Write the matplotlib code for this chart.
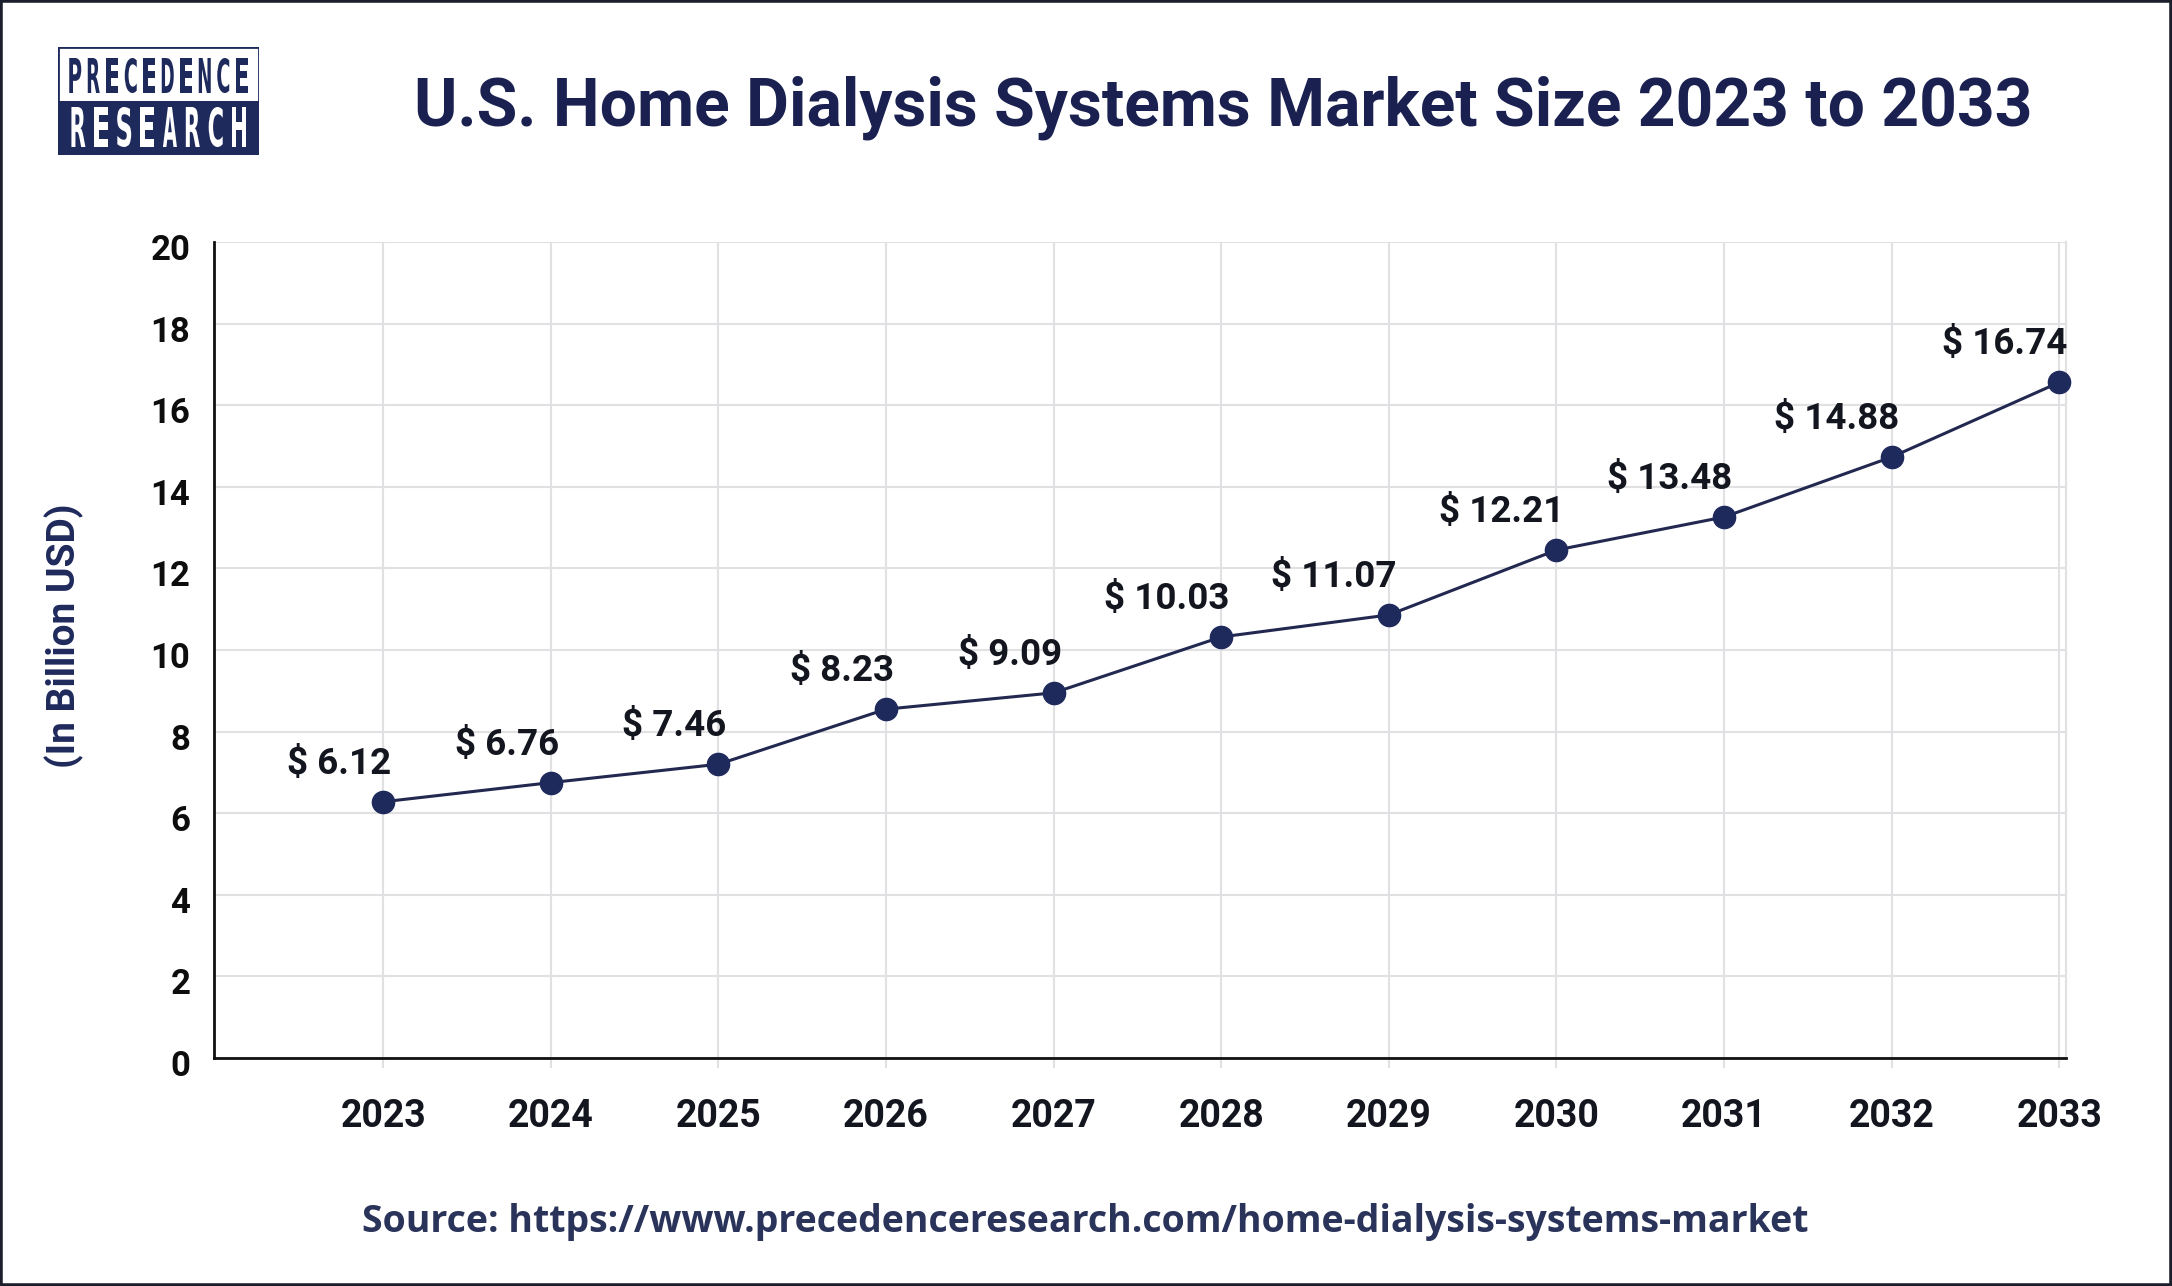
import matplotlib
matplotlib.use('Agg')
import matplotlib.pyplot as plt
import matplotlib.transforms as mtransforms
from matplotlib.patches import Rectangle, PathPatch
from matplotlib.textpath import TextPath
from matplotlib.font_manager import FontProperties
from matplotlib.transforms import Affine2D

years = [2023, 2024, 2025, 2026, 2027, 2028, 2029, 2030, 2031, 2032, 2033]
# values printed on the chart (USD billion)
market_size = [6.12, 6.76, 7.46, 8.23, 9.09, 10.03, 11.07, 12.21, 13.48, 14.88, 16.74]
# heights where the dots are actually drawn in the picture
drawn_size = [6.28, 6.75, 7.20, 8.55, 8.95, 10.32, 10.86, 12.45, 13.26, 14.73, 16.56]
y_ticks = [0, 2, 4, 6, 8, 10, 12, 14, 16, 18, 20]

title = 'U.S. Home Dialysis Systems Market Size 2023 to 2033'
y_label = '(In Billion USD)'
source = 'Source: https://www.precedenceresearch.com/home-dialysis-systems-market'

navy = '#1f2a5c'
text_dark = '#14161f'
grid_c = '#e1e1e4'

W, H = 2172, 1286
fig = plt.figure(figsize=(W / 100, H / 100), dpi=100, facecolor='white')

ax = fig.add_axes([214 / W, 1 - 1058 / H, (2066 - 214) / W, (1058 - 242) / H])
ax.plot(years, drawn_size, color='#22284f', lw=2.2, marker='o', markersize=16,
        markerfacecolor=navy, markeredgecolor=navy, zorder=3, clip_on=False)

for x, yv, lab in zip(years, drawn_size, market_size):
    ax.annotate(f'$ {lab:.2f}', (x, yv), xytext=(8, 28), textcoords='offset pixels',
                ha='right', va='baseline', fontsize=26.5, fontweight='bold',
                family=['Roboto', 'DejaVu Sans'], color=text_dark, zorder=4)

ax.set_xlim(2021.99, 2033.04)
ax.set_ylim(0, 20)
ax.set_xticks(years)
ax.set_yticks(y_ticks)
ax.grid(True, color=grid_c, lw=1.5)
ax.set_axisbelow(True)

ax.spines['top'].set_visible(False)
ax.spines['right'].set_color(grid_c)
ax.spines['right'].set_linewidth(1.5)
ax.spines['left'].set_color('#111111')
ax.spines['left'].set_linewidth(2)
ax.spines['bottom'].set_color('#111111')
ax.spines['bottom'].set_linewidth(2)

ax.tick_params(axis='x', length=7, width=1.5, color=grid_c, pad=22)
ax.tick_params(axis='y', length=0, pad=17)
for lbl in ax.get_xticklabels():
    lbl.set_fontsize(27)
    lbl.set_fontweight('bold')
    lbl.set_family(['Roboto', 'DejaVu Sans'])
    lbl.set_color(text_dark)
shift = mtransforms.ScaledTranslation(0, -5 / 100, fig.dpi_scale_trans)
for lbl in ax.get_yticklabels():
    lbl.set_fontsize(25)
    lbl.set_fontweight('bold')
    lbl.set_family(['Liberation Sans Narrow', 'Roboto', 'DejaVu Sans'])
    lbl.set_color('#0d0d0d')
    lbl.set_transform(lbl.get_transform() + shift)

fig.text(64 / W, 1 - 636 / H, y_label, rotation=90, ha='center', va='center',
         fontsize=28, fontweight='bold', family=['Roboto', 'DejaVu Sans'], color=navy)

fig.text(1223 / W, 1 - 108 / H, title, ha='center', va='center', fontsize=47.5,
         fontweight='bold', family=['Roboto', 'DejaVu Sans'], color='#1a2150')

fig.text(1085 / W, 1 - 1222 / H, source, ha='center', va='center', fontsize=27,
         fontweight='bold', family=['Open Sans', 'Roboto', 'DejaVu Sans'], color='#2a3359')

# logo box
lx, ly, lw, lh = 58, 47, 201, 108
lax = fig.add_axes([lx / W, 1 - (ly + lh) / H, lw / W, lh / H])
lax.set_xlim(0, lw)
lax.set_ylim(0, lh)
lax.axis('off')
lax.add_patch(Rectangle((0, 0), lw, lh / 2, facecolor=navy, edgecolor='none'))
lax.add_patch(Rectangle((0, 0), lw, lh, facecolor='none', edgecolor=navy, lw=2))

fp = FontProperties(family='DejaVu Sans', weight='bold')


def draw_word(word, x0, x1, y0, cap, glyph_w, color):
    slot = (x1 - x0) / len(word)
    for i, ch in enumerate(word):
        tp = TextPath((0, 0), ch, size=1, prop=fp)
        ext = tp.get_extents()
        sx = glyph_w / ext.width
        sy = cap / ext.height
        cx = x0 + slot * (i + 0.5)
        tr = Affine2D().translate(-ext.x0 - ext.width / 2, -ext.y0).scale(sx, sy).translate(cx, y0)
        lax.add_patch(PathPatch(tr.transform_path(tp), facecolor=color, edgecolor='none'))


draw_word('PRECEDENCE', 8, 193, 62, 35, 12, navy)
draw_word('RESEARCH', 9, 192, 8, 40, 14, 'white')

# outer frame
fig.add_artist(Rectangle((0, 0), 1, 1, transform=fig.transFigure, fill=False,
                         edgecolor='#1b1f2b', lw=4))

fig.savefig('out.png', dpi=100, facecolor='white')
